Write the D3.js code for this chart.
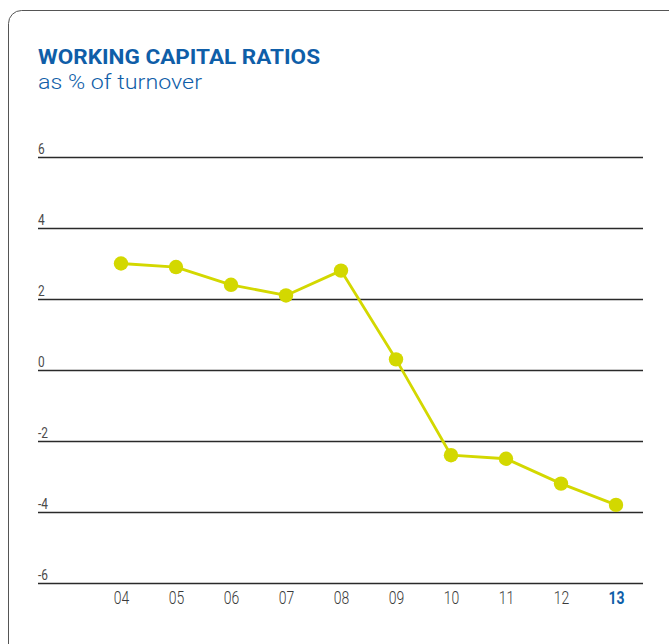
<!DOCTYPE html>
<html>
<head>
<meta charset="utf-8">
<script src="https://cdn.jsdelivr.net/npm/d3@7"></script>
<style>
  html, body { margin: 0; padding: 0; background: #fff; }
  svg { display: block; }
</style>
</head>
<body>
<svg id="chart" width="669" height="644"></svg>
<script>
// Working capital as % of turnover, fiscal years 2004–2013
const years = ["04", "05", "06", "07", "08", "09", "10", "11", "12", "13"];
const ratios = [3.0, 2.9, 2.4, 2.1, 2.8, 0.3, -2.4, -2.5, -3.2, -3.8];
const yTicks = [6, 4, 2, 0, -2, -4, -6];
const highlightYear = "13";

const blue = "#0f5ea8";
const lime = "#d3d800";
const labelFont = "Roboto, sans-serif";

const svg = d3.select("#chart");

// Panel frame with rounded corners
svg.append("rect")
  .attr("x", 8.5).attr("y", 10.5)
  .attr("width", 690).attr("height", 660)
  .attr("rx", 13).attr("ry", 13)
  .attr("fill", "none")
  .attr("stroke", "#555")
  .attr("stroke-width", 1);

// Heading
svg.append("text")
  .attr("x", 38).attr("y", 64)
  .attr("font-family", labelFont)
  .attr("font-weight", 700)
  .attr("font-size", 20.5)
  .attr("fill", blue)
  .attr("textLength", 282).attr("lengthAdjust", "spacingAndGlyphs")
  .text("WORKING CAPITAL RATIOS");

svg.append("text")
  .attr("x", 38).attr("y", 89)
  .attr("font-family", labelFont)
  .attr("font-weight", 300)
  .attr("font-size", 19.5)
  .attr("fill", blue)
  .attr("textLength", 164).attr("lengthAdjust", "spacingAndGlyphs")
  .text("as % of turnover");

// Scales
const y = d3.scaleLinear().domain([-6, 6]).range([583, 157]);
const x = d3.scalePoint().domain(years).range([121, 616]);

const gridLeft = 38, gridRight = 643;

// Horizontal gridlines with value labels sitting on them
const yAxis = d3.axisRight(y)
  .tickValues(yTicks)
  .tickSize(gridRight - gridLeft)
  .tickFormat(d => d < 0 ? "-" + Math.abs(d) : String(d));

const gy = svg.append("g")
  .attr("transform", `translate(${gridLeft},0)`)
  .call(yAxis);
gy.select(".domain").remove();
gy.selectAll(".tick line")
  .attr("stroke", "#2a2a2a")
  .attr("stroke-width", 1.3);
gy.selectAll(".tick text")
  .attr("x", 0)
  .attr("y", -3.5)
  .attr("dy", 0)
  .attr("text-anchor", "start")
  .attr("transform", "scale(0.82,1)")
  .attr("font-family", labelFont)
  .attr("font-weight", 400)
  .attr("font-size", 14.5)
  .attr("fill", "#4a4a4a");

// Year labels along the bottom
const xAxis = d3.axisBottom(x).tickSize(0).tickPadding(0);
const gx = svg.append("g")
  .attr("transform", "translate(0,590)")
  .call(xAxis);
gx.select(".domain").remove();
gx.selectAll(".tick text")
  .attr("y", 13.6)
  .attr("dy", 0)
  .attr("transform", "scale(0.8,1)")
  .attr("font-family", labelFont)
  .attr("font-size", 17.5)
  .attr("font-weight", d => d === highlightYear ? 700 : 300)
  .attr("fill", d => d === highlightYear ? blue : "#3a3a3a");

// Series line and markers
const pts = years.map((yr, i) => ({ yr, v: ratios[i] }));

svg.append("path")
  .datum(pts)
  .attr("fill", "none")
  .attr("stroke", lime)
  .attr("stroke-width", 2.8)
  .attr("stroke-linejoin", "round")
  .attr("d", d3.line().x(d => x(d.yr)).y(d => y(d.v)));

svg.append("g")
  .selectAll("circle")
  .data(pts)
  .join("circle")
  .attr("cx", d => x(d.yr))
  .attr("cy", d => y(d.v))
  .attr("r", 7.2)
  .attr("fill", lime);
</script>
</body>
</html>
